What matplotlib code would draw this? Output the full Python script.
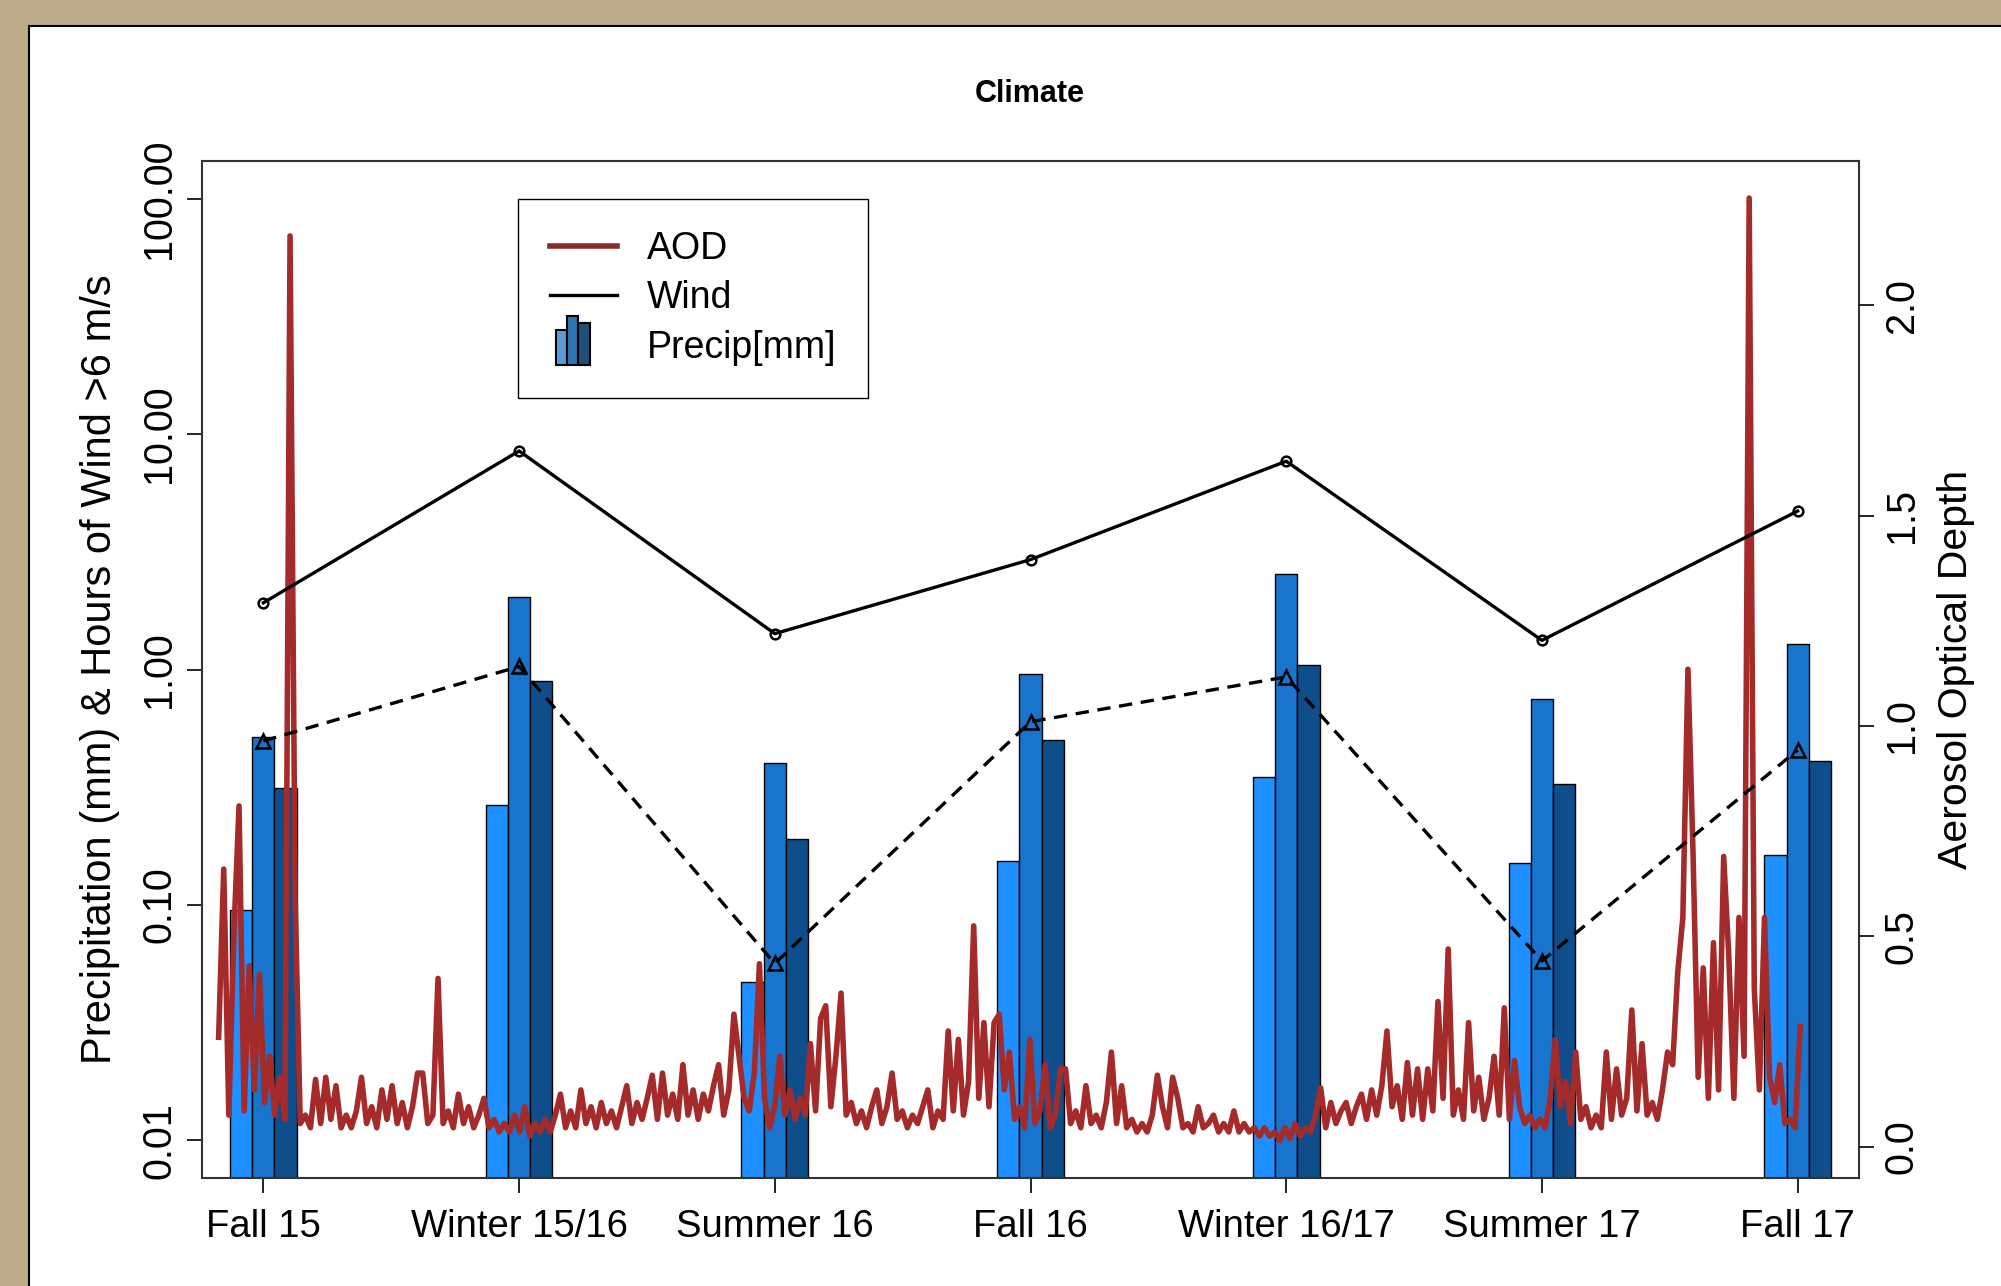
import matplotlib.pyplot as plt
import numpy as np
from matplotlib.patches import Rectangle
from matplotlib.lines import Line2D
from matplotlib.legend_handler import HandlerBase
from matplotlib.ticker import NullLocator

plt.rcParams['font.family'] = ['Liberation Sans', 'DejaVu Sans']

# seasons on the x axis
seasons = ['Fall 15', 'Winter 15/16', 'Summer 16', 'Fall 16',
           'Winter 16/17', 'Summer 17', 'Fall 17']

# precipitation bars (mm), three per season
precip_a = [0.095, 0.266, 0.047, 0.153, 0.35, 0.150, 0.163]
precip_b = [0.515, 2.04, 0.402, 0.96, 2.55, 0.75, 1.28]
precip_c = [0.313, 0.894, 0.190, 0.50, 1.05, 0.325, 0.41]

# hours of wind > 6 m/s
wind_solid = [1.92, 8.48, 1.42, 2.93, 7.67, 1.33, 4.71]
wind_dashed = [0.497, 1.03, 0.0564, 0.60, 0.93, 0.0578, 0.455]

# AOD time series (evenly spaced in time)
aod_start, aod_end = 0.825, 7.01
aod = [
    0.26, 0.66, 0.075, 0.51, 0.81, 0.085, 0.43, 0.135, 0.41, 0.105,
    0.215, 0.075, 0.165, 0.065, 2.165, 0.59, 0.055,
    0.075, 0.045, 0.16, 0.055, 0.165, 0.065, 0.145, 0.045, 0.075, 0.045,
    0.085, 0.165, 0.055, 0.095, 0.045, 0.135, 0.065, 0.145, 0.055, 0.105,
    0.045, 0.095, 0.175, 0.175, 0.055, 0.075, 0.40, 0.055, 0.085, 0.045,
    0.125, 0.055, 0.095, 0.045, 0.075, 0.115, 0.045, 0.065, 0.035, 0.055,
    0.035, 0.075,
    0.035, 0.095, 0.025, 0.055, 0.035, 0.065, 0.035, 0.075, 0.125, 0.045,
    0.085, 0.045,
    0.135, 0.055, 0.095, 0.045, 0.105, 0.055, 0.085, 0.045, 0.095, 0.145,
    0.055, 0.105, 0.065, 0.115, 0.17, 0.065, 0.175, 0.075, 0.125, 0.065,
    0.195, 0.075, 0.135, 0.065, 0.125, 0.085, 0.145, 0.195, 0.075, 0.135,
    0.315, 0.215,
    0.115, 0.085, 0.175, 0.435, 0.115, 0.045, 0.095, 0.215, 0.075, 0.135,
    0.065, 0.115, 0.075, 0.245, 0.085, 0.305, 0.335, 0.095, 0.215, 0.365,
    0.075, 0.105, 0.055, 0.085, 0.045, 0.095, 0.135, 0.055, 0.095, 0.175,
    0.065, 0.085, 0.045, 0.075, 0.055, 0.095, 0.135, 0.045, 0.085, 0.065,
    0.275, 0.085, 0.255, 0.075, 0.155,
    0.525, 0.115, 0.295, 0.095, 0.295, 0.315, 0.135, 0.225, 0.065, 0.095,
    0.045, 0.255, 0.055, 0.085, 0.195, 0.045, 0.075, 0.185, 0.185, 0.055,
    0.085, 0.045, 0.145, 0.055, 0.075,
    0.045, 0.105, 0.225, 0.055, 0.145, 0.045, 0.065, 0.035, 0.055, 0.035,
    0.075, 0.17, 0.095, 0.045, 0.165, 0.115, 0.045, 0.055, 0.035, 0.095,
    0.045, 0.055, 0.075, 0.035, 0.055, 0.035, 0.085, 0.035, 0.055, 0.035,
    0.045, 0.025, 0.045, 0.025, 0.035,
    0.015, 0.045, 0.02, 0.055, 0.025, 0.045, 0.035, 0.075, 0.14, 0.045,
    0.105, 0.055, 0.085, 0.105, 0.055, 0.095, 0.125, 0.065, 0.135, 0.075,
    0.145, 0.275,
    0.095, 0.145, 0.065, 0.2, 0.075, 0.185, 0.065, 0.185, 0.085, 0.345,
    0.115, 0.47, 0.075, 0.135, 0.065, 0.295, 0.085, 0.165, 0.065, 0.115,
    0.215, 0.075, 0.33, 0.065, 0.205, 0.095, 0.055, 0.075, 0.045, 0.065,
    0.045, 0.115, 0.255, 0.095, 0.155, 0.055, 0.225, 0.065, 0.095, 0.045,
    0.075, 0.045, 0.225, 0.065, 0.185, 0.075, 0.115, 0.325, 0.085, 0.245,
    0.075, 0.105, 0.065,
    0.135, 0.225, 0.195, 0.415, 0.545, 1.135, 0.695, 0.165, 0.425, 0.115,
    0.485, 0.135, 0.69, 0.455, 0.115, 0.545, 0.215, 2.255, 0.375, 0.135,
    0.545, 0.165, 0.105, 0.195, 0.055, 0.065, 0.045, 0.285,
]

bar_cols = ['#1E90FF', '#1874CD', '#104E8B']
icon_cols = ['#5B9BD5', '#2E75B6', '#1F4E79']
aod_col = '#A52A2A'


class BarIcon(HandlerBase):
    def create_artists(self, legend, orig_handle, xdescent, ydescent,
                       width, height, fontsize, trans):
        cy = height / 2 - ydescent
        bw = 0.3 * fontsize
        x0 = 0.09 * width - xdescent
        y0 = cy - 0.55 * fontsize
        hs = [0.95, 1.32, 1.12]
        arts = []
        for i in range(3):
            r = Rectangle((x0 + i * bw, y0), bw, hs[i] * fontsize,
                          facecolor=icon_cols[i], edgecolor='black',
                          linewidth=1.5, transform=trans)
            arts.append(r)
        return arts


fig = plt.figure(figsize=(20.01, 12.86), dpi=100, facecolor='#BDAC8C')
panel = Rectangle((29 / 2001, -0.01), 1.0, 1 - 26 / 1286 + 0.01,
                  transform=fig.transFigure, facecolor='white',
                  edgecolor='black', linewidth=1.5, zorder=-1)
fig.patches.append(panel)

ax = fig.add_axes([0.10095, 0.08398, 0.82809, 0.79082])
ax.set_facecolor('none')
x = np.arange(1, len(seasons) + 1)
w = 0.087
floor = 1e-3
for off, vals, c in zip([-w, 0, w], [precip_a, precip_b, precip_c], bar_cols):
    ax.bar(x + off, np.array(vals) - floor, w, bottom=floor, color=c,
           edgecolor='black', linewidth=1.0)
ax.set_yscale('log')
ax.set_ylim(10 ** -2.16, 10 ** 2.16)
ax.set_xlim(0.76, 7.24)
ax.set_yticks([0.01, 0.1, 1, 10, 100])
ax.set_yticklabels(['0.01', '0.10', '1.00', '10.00', '100.00'],
                   rotation=90, va='center', ha='right')
ax.yaxis.set_minor_locator(NullLocator())
ax.set_xticks(x)
ax.set_xticklabels(seasons, fontsize=27.5)
ax.tick_params(axis='y', labelsize=28.5, length=11, width=1.2, pad=6)
ax.tick_params(axis='x', length=11, width=1.2, pad=11)
for s in ax.spines.values():
    s.set_color('#333333')
    s.set_linewidth(1.5)

# AOD on the right axis
ax2 = ax.twinx()
aod_x = np.linspace(aod_start, aod_end, len(aod))
ax2.plot(aod_x, aod, color=aod_col, linewidth=4.0)
ax2.set_ylim(-0.0744, 2.343)
ax2.set_xlim(0.76, 7.24)
ax2.set_yticks([0, 0.5, 1.0, 1.5, 2.0])
ax2.set_yticklabels(['0.0', '0.5', '1.0', '1.5', '2.0'],
                    rotation=90, va='center', ha='left')
ax2.tick_params(axis='y', labelsize=28.5, length=11, width=1.2, pad=6)
for s in ax2.spines.values():
    s.set_visible(False)

# wind lines on top
ax3 = ax.twinx()
ax3.set_yscale('log')
ax3.set_ylim(10 ** -2.16, 10 ** 2.16)
ax3.set_xlim(0.76, 7.24)
ax3.plot(x, wind_solid, color='black', linewidth=2.4, marker='o',
         markersize=7, markerfacecolor='none', markeredgewidth=1.8)
ax3.plot(x, wind_dashed, color='black', linewidth=2.4, linestyle=(0, (4, 2.6)),
         marker='^', markersize=10, markerfacecolor='none',
         markeredgewidth=1.8)
ax3.yaxis.set_visible(False)
for s in ax3.spines.values():
    s.set_visible(False)

handles = [Line2D([], [], color='#8B2A2A', linewidth=4),
           Line2D([], [], color='black', linewidth=2.4),
           Rectangle((0, 0), 1, 1)]
fig.legend(handles, ['AOD', 'Wind', 'Precip[mm]'],
           handler_map={Rectangle: BarIcon()},
           loc='upper left', bbox_to_anchor=(518 / 2001, 1 - 199 / 1286),
           bbox_transform=fig.transFigure, prop={'size': 27},
           frameon=True, fancybox=False, framealpha=1, edgecolor='black',
           handlelength=1.78, handletextpad=0.8, borderpad=0.85,
           labelspacing=0.36, borderaxespad=0)

fig.text(0.5147, 1 - 94 / 1286, 'Climate', ha='center', va='center',
         fontsize=22, fontweight='bold')
fig.text(0.05, 0.4794, 'Precipitation (mm) & Hours of Wind >6 m/s',
         rotation=90, ha='center', va='center', fontsize=30)
fig.text(0.9775, 0.4794, 'Aerosol Optical Depth', rotation=90,
         ha='center', va='center', fontsize=29.5)

fig.savefig('out.png', dpi=100, facecolor=fig.get_facecolor())
